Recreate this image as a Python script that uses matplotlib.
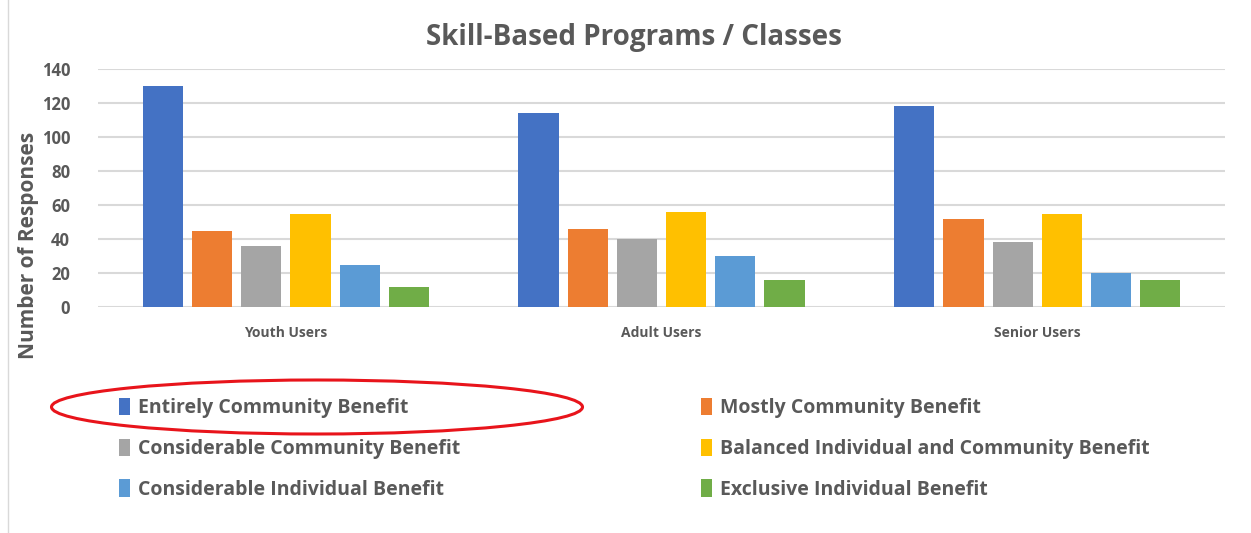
import numpy as np
import matplotlib
matplotlib.use("Agg")
import matplotlib.pyplot as plt
from matplotlib.patches import Ellipse
from matplotlib.lines import Line2D

plt.rcParams['font.family'] = ['Open Sans', 'DejaVu Sans']

# data
groups = ["Youth Users", "Adult Users", "Senior Users"]
series = ["Entirely Community Benefit", "Mostly Community Benefit",
          "Considerable Community Benefit", "Balanced Individual and Community Benefit",
          "Considerable Individual Benefit", "Exclusive Individual Benefit"]
entirely = [130, 114, 118]
mostly = [45, 46, 52]
considerable_comm = [36, 40, 38]
balanced = [55, 56, 55]
considerable_ind = [25, 30, 20]
exclusive = [12, 16, 16]
values = [entirely, mostly, considerable_comm, balanced, considerable_ind, exclusive]
colors = ["#4472C4", "#ED7D31", "#A5A5A5", "#FFC000", "#5B9BD5", "#70AD47"]

txt = "#595959"

fig = plt.figure(figsize=(12.51, 5.33), dpi=100)
ax = fig.add_axes([0.0783, 0.424, 0.901, 0.4465])

x = np.arange(len(groups))
slot = 0.131
bw = 0.107
bars = []
for i, (vals, c) in enumerate(zip(values, colors)):
    off = (i - 2.5) * slot
    b = ax.bar(x + off, vals, bw, color=c, label=series[i], zorder=3)
    bars.append(b)

ax.set_xlim(-0.5, 2.5)
ax.set_ylim(0, 140)
ax.set_yticks(range(0, 141, 20))
ax.yaxis.grid(True, color="#D9D9D9", linewidth=1.5, zorder=0)
ax.set_axisbelow(True)
for s in ax.spines.values():
    s.set_visible(False)
ax.tick_params(axis='both', length=0)
ax.tick_params(axis='y', labelsize=12, labelcolor=txt, pad=20)
ax.tick_params(axis='x', labelsize=10, labelcolor=txt, pad=14)
for lbl in ax.get_yticklabels():
    lbl.set_fontweight('bold')
ax.set_xticks(x)
ax.set_xticklabels(groups, fontweight='bold')

fig.text(0.507, 0.929, "Skill-Based Programs / Classes", ha='center', va='center',
         fontsize=20, fontweight='bold', color=txt)
fig.text(0.023, 0.54, "Number of Responses", rotation=90, ha='center', va='center',
         fontsize=15, fontweight='bold', color=txt)

order = [0, 2, 4, 1, 3, 5]
leg = fig.legend([bars[i] for i in order], [series[i] for i in order], ncol=2,
                 loc='upper left', bbox_to_anchor=(0.0815, 0.287), frameon=False,
                 handlelength=0.55, handleheight=1.0, handletextpad=0.4,
                 columnspacing=12.4, labelspacing=1.06, fontsize=14)
for t in leg.get_texts():
    t.set_color(txt)
    t.set_fontweight('bold')

# red annotation ellipse round the first legend entry
fig.patches.append(Ellipse((317 / 1251, 1 - 407 / 533), 531 / 1251, 54 / 533,
                           transform=fig.transFigure, fill=False,
                           edgecolor='#E8141B', linewidth=2.2))
# thin frame edge on the left
fig.lines.append(Line2D([8 / 1251, 8 / 1251], [0, 1], transform=fig.transFigure,
                        color='#D9D9D9', linewidth=1))

fig.savefig("out.png", dpi=100)
